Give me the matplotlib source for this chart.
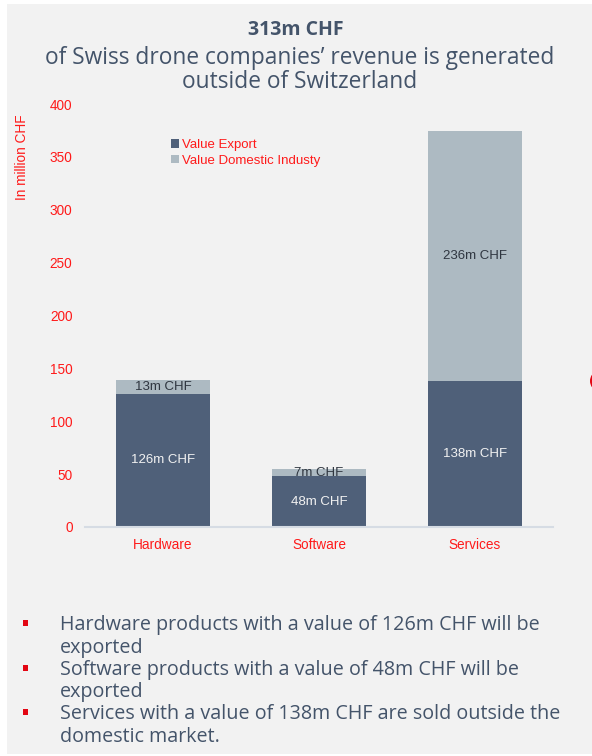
import matplotlib
matplotlib.use("Agg")
import matplotlib.pyplot as plt
from matplotlib.patches import Rectangle, Circle

categories = ["Hardware", "Software", "Services"]
value_export = [126, 48, 138]
value_domestic = [13, 7, 236]
export_labels = ["126m CHF", "48m CHF", "138m CHF"]
domestic_labels = ["13m CHF", "7m CHF", "236m CHF"]
yticks = [0, 50, 100, 150, 200, 250, 300, 350, 400]
bullets = [
    ["Hardware products with a value of 126m CHF will be", "exported"],
    ["Software products with a value of 48m CHF will be", "exported"],
    ["Services with a value of 138m CHF are sold outside the", "domestic market."],
]

W, H = 592, 756
fig = plt.figure(figsize=(W / 100, H / 100), dpi=100)
fig.patch.set_facecolor("white")
bg = "#f2f2f2"
fig.add_artist(Rectangle((7 / W, 2 / H), 1, 1 - 6 / H, transform=fig.transFigure,
                         facecolor=bg, edgecolor="none", zorder=0))
fig.add_artist(Circle((597 / W, 1 - 381 / H), 7 / W, transform=fig.transFigure,
                      facecolor="#e30613", edgecolor="none", zorder=1))

dark = "#4f6079"
light = "#adbac2"
red = "#ff1a1a"
title_col = "#44546a"

ax = fig.add_axes([85 / W, 1 - 527 / H, 468 / W, (527 - 104) / H])
ax.set_facecolor("none")
x = list(range(len(categories)))
ax.bar(x, value_export, width=0.6, color=dark, label="Value Export", zorder=2)
ax.bar(x, value_domestic, width=0.6, bottom=value_export, color=light,
       label="Value Domestic Industy", zorder=2)
for i in x:
    ax.text(i, value_export[i] / 2, export_labels[i], ha="center", va="center",
            color="#f2f2f2", fontsize=9.5, family="Liberation Sans")
    ax.text(i, value_export[i] + value_domestic[i] / 2, domestic_labels[i],
            ha="center", va="center", color="#2f3640", fontsize=9.5,
            family="Liberation Sans")
ax.set_xlim(-0.5, 2.5)
ax.set_ylim(0, 400)
ax.set_yticks(yticks)
ax.set_xticks(x)
ax.set_xticklabels(categories)
for s in ["top", "right", "left"]:
    ax.spines[s].set_visible(False)
ax.spines["bottom"].set_color("#d6dce4")
ax.spines["bottom"].set_linewidth(1.5)
ax.tick_params(axis="both", length=0, labelcolor=red, labelsize=9.8)
ax.tick_params(axis="y", pad=9)
ax.tick_params(axis="x", pad=8)
for lab in ax.get_xticklabels() + ax.get_yticklabels():
    lab.set_family("Liberation Sans")

fig.text(22 / W, 1 - 157 / H, "In million CHF", rotation=90, ha="center",
         va="center", color=red, fontsize=9.8, family="Liberation Sans")

leg = ax.legend(loc="upper left", bbox_to_anchor=((166 - 85) / 468, (527 - 134) / 423),
                frameon=False, handlelength=0.6, handleheight=0.6, handletextpad=0.2,
                labelspacing=0.25, prop={"family": "Liberation Sans", "size": 9.5},
                borderaxespad=0)
for t in leg.get_texts():
    t.set_color(red)

fig.text(296 / W, 1 - 30 / H, "313m CHF", ha="center", va="center",
         fontsize=14, fontweight="bold", color=title_col, family="Open Sans")
fig.text(300 / W, 1 - 58 / H, "of Swiss drone companies\u2019 revenue is generated",
         ha="center", va="center", fontsize=16.4, color=title_col, family="Open Sans")
fig.text(300 / W, 1 - 82 / H, "outside of Switzerland",
         ha="center", va="center", fontsize=16.4, color=title_col, family="Open Sans")

ys = [623, 668, 712]
for yb, lines in zip(ys, bullets):
    fig.add_artist(Rectangle((23 / W, 1 - (yb + 3) / H), 5 / W, 6 / H,
                             transform=fig.transFigure, facecolor="#e30613",
                             edgecolor="none"))
    for k, line in enumerate(lines):
        fig.text(60 / W, 1 - (yb + 2 + k * 22.5) / H, line, ha="left", va="center",
                 fontsize=14.2, color=title_col, family="Open Sans")

fig.savefig("out.png", dpi=100, facecolor=fig.get_facecolor())
